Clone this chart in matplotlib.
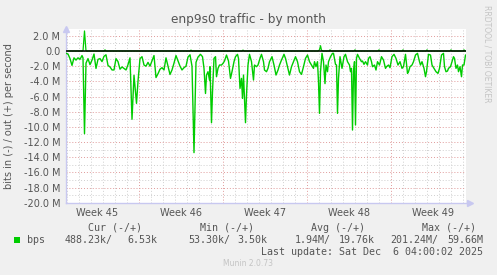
import matplotlib
matplotlib.use("Agg")
import matplotlib.pyplot as plt

# ---- data (hours since Mon 3 Nov 2025 00:00, values in Mbit/s) ----
in_hours = [22, 26, 30, 34, 38, 42, 46, 50, 54, 56, 59, 62, 66, 70, 74, 78, 82, 86, 90, 94,
            98, 102, 106, 110, 114, 118, 122, 126, 130, 134, 138, 142, 146, 150, 154, 158,
            163, 166, 170, 174, 178, 182, 186, 190, 194, 198, 202, 206, 210, 214, 218, 222,
            226, 230, 234, 238, 242, 246, 250, 254, 258, 262, 266, 270, 274, 278, 282, 286,
            291, 295, 298, 301, 303, 306, 309, 310, 313, 315, 318, 321, 323, 326, 329, 333,
            336, 339, 343, 347, 351, 354, 358, 361, 365, 367, 370, 373, 375, 377, 381, 383,
            386, 389, 393, 397, 399, 403, 406, 410, 413, 417, 419, 423, 426, 429, 434, 438,
            442, 446, 449, 453, 458, 461, 465, 469, 473, 477, 481, 485, 489, 493, 497, 501,
            505, 509, 513, 517, 519, 522, 525, 527, 529, 531, 534, 537, 540, 542, 545, 547,
            551, 555, 557, 561, 563, 565, 567, 570, 574, 578, 581, 585, 589, 591, 593, 595,
            597, 599, 601, 603, 605, 609, 613, 615, 618, 621, 625, 627, 630, 633, 635, 639,
            642, 645, 649, 653, 657, 661, 663, 667, 670, 674, 678, 682, 686, 690, 694, 697,
            701, 705, 707, 710, 714, 717, 721, 725, 729, 731, 734, 738, 741, 743, 747, 751,
            754, 758, 762, 766, 769, 773, 777, 779, 782, 785, 787, 791, 794, 797, 799, 802,
            805, 807, 810, 813, 815, 818, 821, 823]
in_values = [-0.3, -0.4, -1.0, -1.9, -0.9, -1.2, -0.9, -1.1, -0.6, -0.9, -10.9, -1.6, -1.0, -1.8,
             -1.2, -0.4, -2.3, -1.1, -1.0, -1.4, -0.7, -0.5, -1.9, -2.1, -2.5, -2.5, -1.0, -1.4,
             -2.4, -2.1, -2.3, -2.5, -1.8, -0.9, -9.0, -3.2, -6.9, -4.0, -1.0, -0.75, -1.85,
             -2.0, -1.5, -2.0, -1.3, -0.6, -3.5, -3.0, -2.4, -2.2, -2.5, -0.9, -2.0, -3.1, -2.5,
             -1.6, -0.6, -1.3, -2.0, -2.5, -2.2, -2.0, -0.8, -0.5, -2.0, -13.4, -1.5, -0.8,
             -0.44, -0.75, -2.29, -5.6, -3.17, -2.73, -3.83, -2.07, -9.45, -5.37, -0.97, -0.75,
             -3.39, -2.29, -1.85, -1.85, -1.63, -1.32, -0.53, -1.32, -3.61, -2.73, -1.41, -0.75,
             -0.44, -0.97, -4.93, -3.61, -6.25, -3.17, -9.45, -5.8, -1.85, -0.44, -1.41, -3.83,
             -1.85, -2.07, -1.85, -0.97, -0.44, -1.41, -2.51, -2.73, -2.29, -1.41, -0.75, -1.85,
             -3.17, -2.51, -1.85, -1.19, -0.44, -0.97, -2.07, -3.17, -2.07, -1.41, -0.75, -1.41,
             -2.73, -3.08, -2.07, -0.97, -0.53, -1.41, -1.85, -2.29, -1.41, -2.07, -1.41, -4.05,
             -8.22, -2.73, -0.31, -1.41, -4.3, -1.85, -2.73, -1.41, -0.75, -0.31, -0.31, -1.76,
             -1.85, -8.22, -3.61, -0.75, -2.29, -0.75, -0.44, -1.41, -1.85, -2.73, -2.29, -10.42,
             -2.73, -1.41, -9.76, -0.97, -0.44, -0.97, -1.41, -1.32, -1.76, -1.41, -1.85, -0.97,
             -0.75, -1.41, -2.07, -1.85, -2.51, -1.41, -1.85, -0.75, -1.19, -2.29, -2.07, -1.85,
             -2.2, -0.75, -0.44, -0.97, -1.85, -1.41, -2.29, -2.07, -0.44, -2.95, -2.73, -2.07,
             -1.85, -1.41, -0.53, -0.31, -1.41, -1.85, -1.41, -2.29, -3.39, -2.73, -0.44, -0.53,
             -1.85, -2.29, -2.73, -2.95, -2.29, -0.53, -0.31, -2.07, -2.73, -2.64, -2.29, -2.07,
             -1.41, -0.75, -0.97, -2.29, -1.85, -2.73, -2.07, -3.39, -1.85, -1.85, -0.53, -0.53]

out_hours = [22, 56, 59, 62, 98, 100, 102, 270, 272, 274, 374, 376, 378, 526, 529, 531, 533,
             536, 548, 550, 552, 598, 600, 602, 646, 648, 650, 694, 696, 698, 742, 744, 746,
             790, 792, 794, 816, 818, 820, 823]
out_values = [0.0, 0.0, 2.64, 0.0, 0.0, 0.15, 0.0, 0.0, 0.12, 0.0, 0.0, 0.12, 0.0,
              0.0, 0.15, 0.7, 0.1, 0.0, 0.0, 0.15, 0.0, 0.0, 0.15, 0.0, 0.0, 0.15, 0.0,
              0.0, 0.15, 0.0, 0.0, 0.15, 0.0, 0.0, 0.15, 0.0, 0.0, 0.15, 0.0, 0.0]

week_labels = ["Week 45", "Week 46", "Week 47", "Week 48", "Week 49"]
week_centers = [84, 252, 420, 588, 756]
week_starts = [168, 336, 504, 672]
y_ticks = [2, 0, -2, -4, -6, -8, -10, -12, -14, -16, -18, -20]
y_labels = ["2.0 M", "0.0", "-2.0 M", "-4.0 M", "-6.0 M", "-8.0 M", "-10.0 M", "-12.0 M",
            "-14.0 M", "-16.0 M", "-18.0 M", "-20.0 M"]

W, H = 497, 275
TXT = "#555555"
GREEN = "#00cc00"

fig = plt.figure(figsize=(W / 100, H / 100), dpi=100, facecolor="#f0f0f0")
ax = fig.add_axes([66 / W, 1 - 202.7 / H, 400 / W, (202.7 - 29) / H])
ax.set_facecolor("white")
ax.set_xlim(22, 822)
ax.set_ylim(-20, 2.9)

dot = (0, (1, 2))
# vertical grid
for h in range(24, 822, 24):
    if h in week_starts:
        continue
    ax.axvline(h, color="#cfcfcf", lw=0.7, ls=dot, zorder=1)
for h in week_starts:
    ax.axvline(h, color="#e09a9a", lw=0.7, ls=dot, zorder=1)
# horizontal grid
for v in range(-19, 3):
    if v % 2:
        ax.axhline(v, color="#cfcfcf", lw=0.7, ls=dot, zorder=1)
for v in range(-18, 3, 2):
    ax.axhline(v, color="#e09a9a", lw=0.7, ls=dot, zorder=1)

ax.plot(in_hours, in_values, color=GREEN, lw=1.0, zorder=3)
ax.plot(out_hours, out_values, color=GREEN, lw=0.9, zorder=2)
ax.axhline(0, color="black", lw=1.1, zorder=6)

ax.set_yticks(y_ticks, y_labels)
ax.set_xticks(week_centers, week_labels)
ax.tick_params(axis="both", length=0, labelsize=7, labelcolor=TXT)
ax.tick_params(axis="y", pad=4)
ax.tick_params(axis="x", pad=4)

for s in ["top", "right"]:
    ax.spines[s].set_visible(False)
for s in ["left", "bottom"]:
    ax.spines[s].set_color("#c8c8f0")
    ax.spines[s].set_linewidth(1.0)
ax.plot([0], [1.0], marker="^", ms=4, color="#c8c8f0", transform=ax.transAxes,
        clip_on=False, zorder=5)
ax.plot([1.01], [0], marker=">", ms=4, color="#c8c8f0", transform=ax.transAxes,
        clip_on=False, zorder=5)

ax.set_ylabel("bits in (-) / out (+) per second", fontsize=7, color=TXT, labelpad=7)


def fx(px):
    return px / W


def fy(py):
    return 1 - py / H


fig.text(0.5, fy(19), "enp9s0 traffic - by month", ha="center", va="center",
         fontsize=8.7, color=TXT)
fig.text(fx(487), fy(5), "RRDTOOL / TOBI OETIKER", rotation=270, ha="center", va="top",
         fontsize=5.5, color="#c4c4c4")

mono = "DejaVu Sans Mono"
fs = 7.2
for txt, xr in [("Cur (-/+)", 142), ("Min (-/+)", 254), ("Avg (-/+)", 365), ("Max (-/+)", 476)]:
    fig.text(fx(xr), fy(228), txt, ha="right", va="center", family=mono, fontsize=fs, color=TXT)

fig.patches.append(plt.Rectangle((fx(14), fy(243)), 6 / W, 6 / H, transform=fig.transFigure,
                                 facecolor=GREEN, edgecolor="none"))
fig.text(fx(27), fy(240), "bps", ha="left", va="center", family=mono, fontsize=fs, color=TXT)
for txt, xr in [("488.23k/", 113), ("6.53k", 157), ("53.30k/", 230), ("3.50k", 267),
                ("1.94M/", 331), ("19.76k", 375), ("201.24M/", 438), ("59.66M", 483)]:
    fig.text(fx(xr), fy(240), txt, ha="right", va="center", family=mono, fontsize=fs, color=TXT)
fig.text(fx(483), fy(252), "Last update: Sat Dec  6 04:00:02 2025", ha="right", va="center",
         family=mono, fontsize=fs, color=TXT)
fig.text(fx(248), fy(264), "Munin 2.0.73", ha="center", va="center", fontsize=5.5,
         color="#c4c4c4")

fig.savefig("out.png", dpi=100, facecolor=fig.get_facecolor())
